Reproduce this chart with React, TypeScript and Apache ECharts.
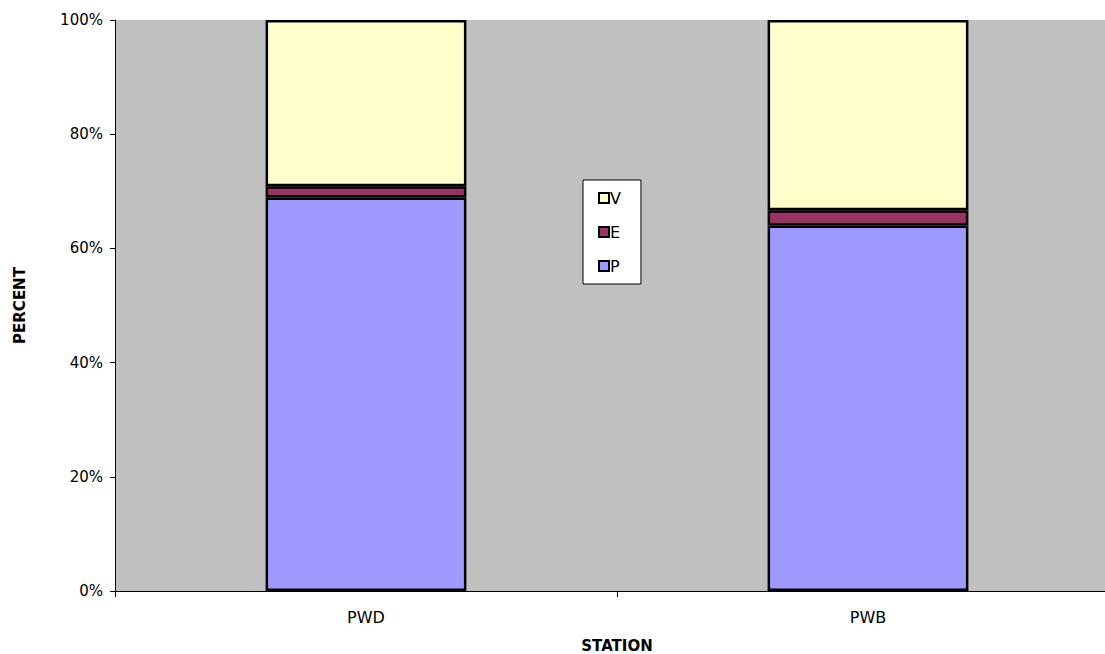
import React, { useEffect, useRef } from "react";
import * as echarts from "echarts";

const categories = ["PWD", "PWB"];
const pValues = [68.9, 64.0];
const eValues = [2.0, 2.7];
const vValues = [29.1, 33.3];
const yTicks = [0, 20, 40, 60, 80, 100];

export default function App() {
  const ref = useRef<HTMLDivElement>(null);
  useEffect(() => {
    if (!ref.current) return;
    const chart = echarts.init(ref.current, undefined, { renderer: "svg" });
    const font = "DejaVu Sans, Liberation Sans, Arial, sans-serif";
    const barStyle = (color: string) => ({ color, borderColor: "#000", borderWidth: 2.5 });
    chart.setOption({
      animation: false,
      textStyle: { fontFamily: font },
      grid: {
        left: 115,
        top: 20,
        right: -14,
        bottom: 63,
        backgroundColor: "#c0c0c0",
        show: true,
        borderWidth: 0,
        outerBoundsMode: "none",
        containLabel: false,
      },
      legend: {
        orient: "vertical",
        left: 583,
        top: 180,
        data: ["V", "E", "P"],
        backgroundColor: "#fff",
        borderColor: "#000",
        borderWidth: 1,
        padding: [10, 20, 10, 15],
        itemWidth: 10,
        itemHeight: 10,
        itemGap: 18,
        icon: "rect",
        textStyle: { fontSize: 16, color: "#000", fontFamily: font, padding: [0, 0, 0, -4] },
      },
      xAxis: {
        type: "category",
        data: categories,
        name: "STATION",
        nameLocation: "middle",
        nameGap: 47,
        nameTextStyle: { fontWeight: "bold", fontSize: 15, color: "#000" },
        axisLine: { lineStyle: { color: "#000", width: 1 } },
        axisTick: { show: true, length: 6, inside: false, lineStyle: { color: "#000" } },
        axisLabel: { fontSize: 16, color: "#000", margin: 18 },
      },
      yAxis: {
        type: "value",
        min: 0,
        max: 100,
        interval: 20,
        name: "PERCENT",
        nameLocation: "middle",
        nameGap: 88,
        nameTextStyle: { fontWeight: "bold", fontSize: 15, color: "#000" },
        axisLine: { show: true, lineStyle: { color: "#000", width: 1 } },
        axisTick: { show: true, length: 5, lineStyle: { color: "#000" } },
        splitLine: { show: false },
        axisLabel: {
          fontSize: 15,
          color: "#000",
          margin: 12,
          formatter: (v: number) => (yTicks.includes(v) ? v + "%" : ""),
        },
      },
      series: [
        { name: "P", type: "bar", stack: "s", data: pValues, barWidth: "40%", itemStyle: barStyle("#9f9aff") },
        { name: "E", type: "bar", stack: "s", data: eValues, barWidth: "40%", itemStyle: barStyle("#993366") },
        { name: "V", type: "bar", stack: "s", data: vValues, barWidth: "40%", itemStyle: barStyle("#ffffcc") },
      ],
    });
    return () => chart.dispose();
  }, []);
  return (
    <div
      ref={ref}
      style={{ position: "absolute", left: 0, top: 0, width: 1105, height: 654, background: "#fff" }}
    />
  );
}
